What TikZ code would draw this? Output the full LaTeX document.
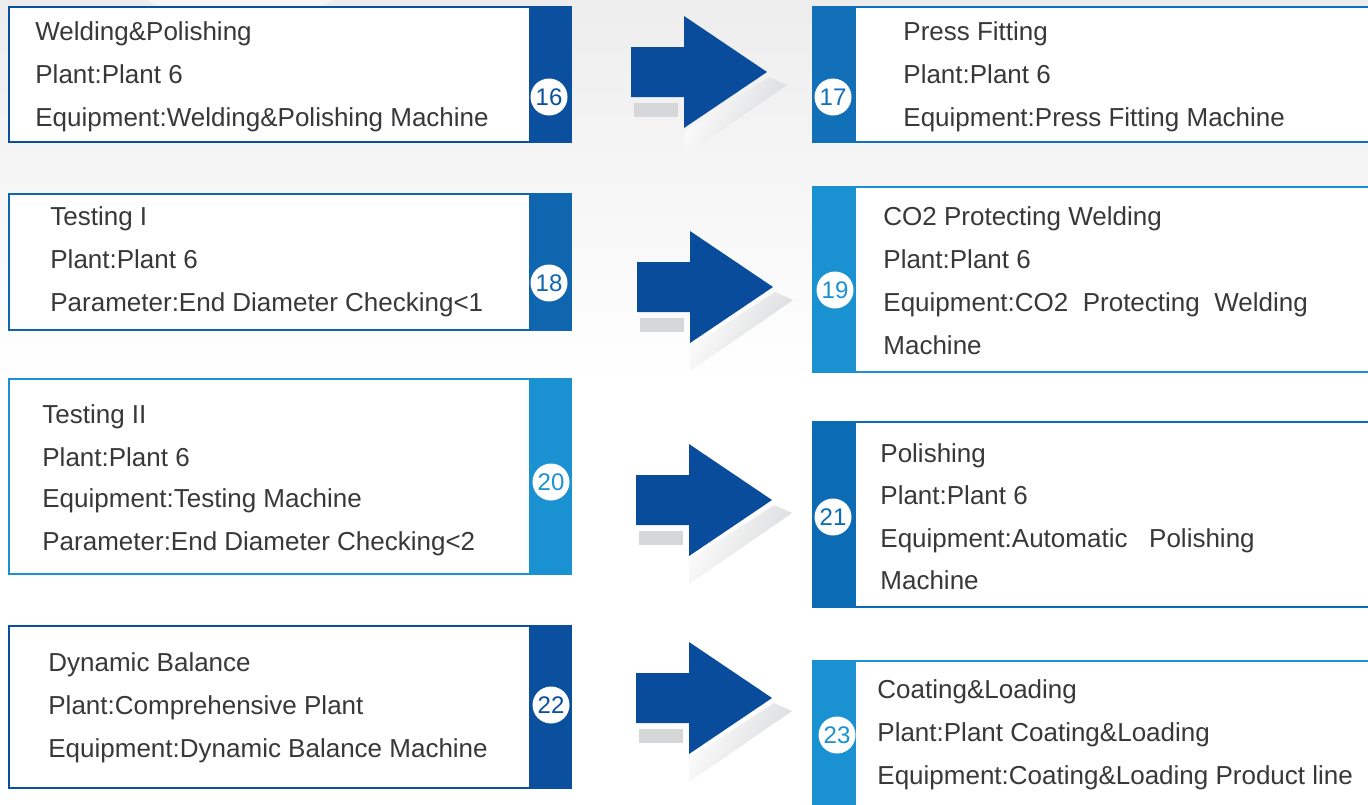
\documentclass[tikz,border=0pt]{standalone}
\usepackage{fontspec}
\setmainfont{Liberation Sans}
\usepackage{xcolor}
\usepackage{tikz}
\usetikzlibrary{arrows}

\definecolor{navy}{HTML}{0B4F9F}
\definecolor{midblue}{HTML}{1270B9}
\definecolor{steelblue}{HTML}{0F66AE}
\definecolor{deepsky}{HTML}{0B6BB5}
\definecolor{skyblue}{HTML}{1A91D1}
\definecolor{arrowblue}{HTML}{0A4C9C}
\definecolor{shadowgray}{HTML}{D6D7D9}

\begin{document}
\begin{tikzpicture}[x=0.5pt, y=-0.5pt,
    stepframe/.style={line width=1.25pt, fill=white},
    steptext/.style={anchor=base west, inner sep=0pt, text=black!78,
                     font=\fontsize{13}{15}\selectfont},
    numdot/.style={circle, fill=white, inner sep=0pt, minimum size=18.5pt,
                   font=\fontsize{12}{12}\selectfont}]
        \useasboundingbox (0, 0) rectangle (1368, 804);
        \clip (0, 0) rectangle (1368, 804);

        % background
        \fill[white] (0, 0) rectangle (1368, 804);
        \shade[top color=black!7, bottom color=white] (0, 0) rectangle (1368, 380);
        \fill[white, opacity=0.5] (240, -160) circle (185);

        % arrows between the steps
        \foreach \ax/\ay/\an in {631/72/a, 637/287/b, 636/500/c, 636/698/d} {
            \fill[shadowgray] (\ax+3, \ay+31) rectangle (\ax+47, \ay+45);
            \shade[left color=white, right color=shadowgray, shading angle=60]
                  (\ax+53, \ay+60) -- (\ax+138, \ay+5) -- (\ax+156, \ay+13)
                  -- (\ax+53, \ay+84) -- cycle;
            \fill[arrowblue] (\ax, \ay-25) -- (\ax+53, \ay-25) -- (\ax+53, \ay-56)
                  -- (\ax+136, \ay) -- (\ax+53, \ay+56) -- (\ax+53, \ay+25)
                  -- (\ax, \ay+25) -- cycle;
            \coordinate (arrow-\an) at (\ax+136, \ay);
        }

        % 16
        \filldraw[stepframe, draw=navy] (9, 7) rectangle (571, 142);
        \fill[navy] (529, 7) rectangle (571, 142);
        \node[numdot, text=navy] (n16) at (549, 97) {16};
        \node[steptext] (t16a) at (35, 40) {Welding\&Polishing};
        \node[steptext] (t16b) at (35, 83) {Plant:Plant 6};
        \node[steptext] (t16c) at (35, 126) {Equipment:Welding\&Polishing Machine};

        % 17
        \filldraw[stepframe, draw=midblue] (813, 7) rectangle (1380, 142);
        \fill[midblue] (813, 7) rectangle (856, 142);
        \node[numdot, text=midblue] (n17) at (833, 97) {17};
        \node[steptext] (t17a) at (903, 40) {Press Fitting};
        \node[steptext] (t17b) at (903, 83) {Plant:Plant 6};
        \node[steptext] (t17c) at (903, 126) {Equipment:Press Fitting Machine};

        % 18
        \filldraw[stepframe, draw=steelblue] (9, 194) rectangle (571, 330);
        \fill[steelblue] (529, 194) rectangle (571, 330);
        \node[numdot, text=steelblue] (n18) at (549, 283) {18};
        \node[steptext] (t18a) at (50, 225) {Testing I};
        \node[steptext] (t18b) at (50, 268) {Plant:Plant 6};
        \node[steptext] (t18c) at (50, 311) {Parameter:End Diameter Checking<1};

        % 19
        \filldraw[stepframe, draw=skyblue] (813, 187) rectangle (1380, 372);
        \fill[skyblue] (813, 187) rectangle (856, 372);
        \node[numdot, text=skyblue] (n19) at (835, 290) {19};
        \node[steptext] (t19a) at (883, 225) {CO2 Protecting Welding};
        \node[steptext] (t19b) at (883, 268) {Plant:Plant 6};
        \node[steptext] (t19c) at (883, 311) {Equipment:CO2\ \ Protecting\ \ Welding};
        \node[steptext] (t19d) at (883, 354) {Machine};

        % 20
        \filldraw[stepframe, draw=skyblue] (9, 379) rectangle (571, 574);
        \fill[skyblue] (529, 379) rectangle (571, 574);
        \node[numdot, text=skyblue] (n20) at (551, 482) {20};
        \node[steptext] (t20a) at (42, 423) {Testing II};
        \node[steptext] (t20b) at (42, 466) {Plant:Plant 6};
        \node[steptext] (t20c) at (42, 507) {Equipment:Testing Machine};
        \node[steptext] (t20d) at (42, 550) {Parameter:End Diameter Checking<2};

        % 21
        \filldraw[stepframe, draw=deepsky] (813, 422) rectangle (1380, 607);
        \fill[deepsky] (813, 422) rectangle (856, 607);
        \node[numdot, text=deepsky] (n21) at (833, 517) {21};
        \node[steptext] (t21a) at (880, 462) {Polishing};
        \node[steptext] (t21b) at (880, 504) {Plant:Plant 6};
        \node[steptext] (t21c) at (880, 547) {Equipment:Automatic\ \ \ Polishing};
        \node[steptext] (t21d) at (880, 589) {Machine};

        % 22
        \filldraw[stepframe, draw=navy] (9, 626) rectangle (571, 788);
        \fill[navy] (529, 626) rectangle (571, 788);
        \node[numdot, text=navy] (n22) at (551, 705) {22};
        \node[steptext] (t22a) at (48, 671) {Dynamic Balance};
        \node[steptext] (t22b) at (48, 714) {Plant:Comprehensive Plant};
        \node[steptext] (t22c) at (48, 757) {Equipment:Dynamic Balance Machine};

        % 23
        \filldraw[stepframe, draw=skyblue] (813, 661) rectangle (1380, 830);
        \fill[skyblue] (813, 661) rectangle (856, 830);
        \node[numdot, text=skyblue] (n23) at (837, 735) {23};
        \node[steptext] (t23a) at (877, 698) {Coating\&Loading};
        \node[steptext] (t23b) at (877, 741) {Plant:Plant Coating\&Loading};
        \node[steptext] (t23c) at (877, 784) {Equipment:Coating\&Loading Product line};
      \end{tikzpicture}
\end{document}
